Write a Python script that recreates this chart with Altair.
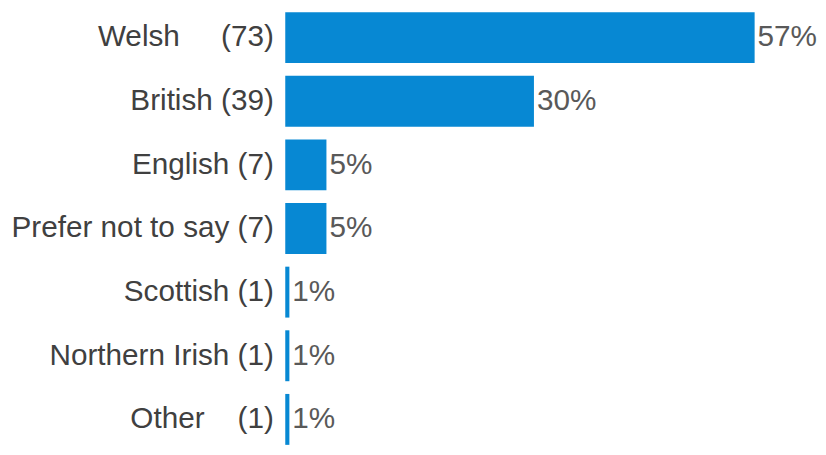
import altair as alt
import pandas as pd

NB = "\u00a0"
labels = [
    "Welsh" + NB * 5 + "(73)",
    "British (39)",
    "English (7)",
    "Prefer not to say (7)",
    "Scottish (1)",
    "Northern Irish (1)",
    "Other" + NB * 4 + "(1)",
]
bar_values = [57.0, 30.2, 5.0, 5.0, 0.5, 0.5, 0.5]
pct_labels = ["57%", "30%", "5%", "5%", "1%", "1%", "1%"]

df = pd.DataFrame({"label": labels, "value": bar_values, "pct": pct_labels})

FONT = "Liberation Sans"

y_enc = alt.Y(
    "label:N",
    sort=labels,
    scale=alt.Scale(paddingInner=0.2, paddingOuter=0),
    axis=alt.Axis(
        title=None, domain=False, ticks=False, labelFontSize=30, labelFont=FONT,
        labelColor="#404040", labelPadding=12, labelLimit=400,
    ),
)
x_enc = alt.X("value:Q", axis=None, scale=alt.Scale(domain=[0, 57], nice=False))

bars = alt.Chart(df).mark_bar(color="#0788D3").encode(x=x_enc, y=y_enc)
text = alt.Chart(df).mark_text(
    align="left", baseline="middle", dx=3, fontSize=30, font=FONT, color="#595959"
).encode(x=x_enc, y=y_enc, text="pct:N")

chart = (bars + text).properties(
    width=818, height=439,
    padding={"top": 2, "left": 2, "right": 0, "bottom": 0},
    autosize=alt.AutoSizeParams(type="fit", contains="padding"),
).configure_view(stroke=None)

chart.save("out.html", embed_options={"renderer": "svg", "actions": False})
